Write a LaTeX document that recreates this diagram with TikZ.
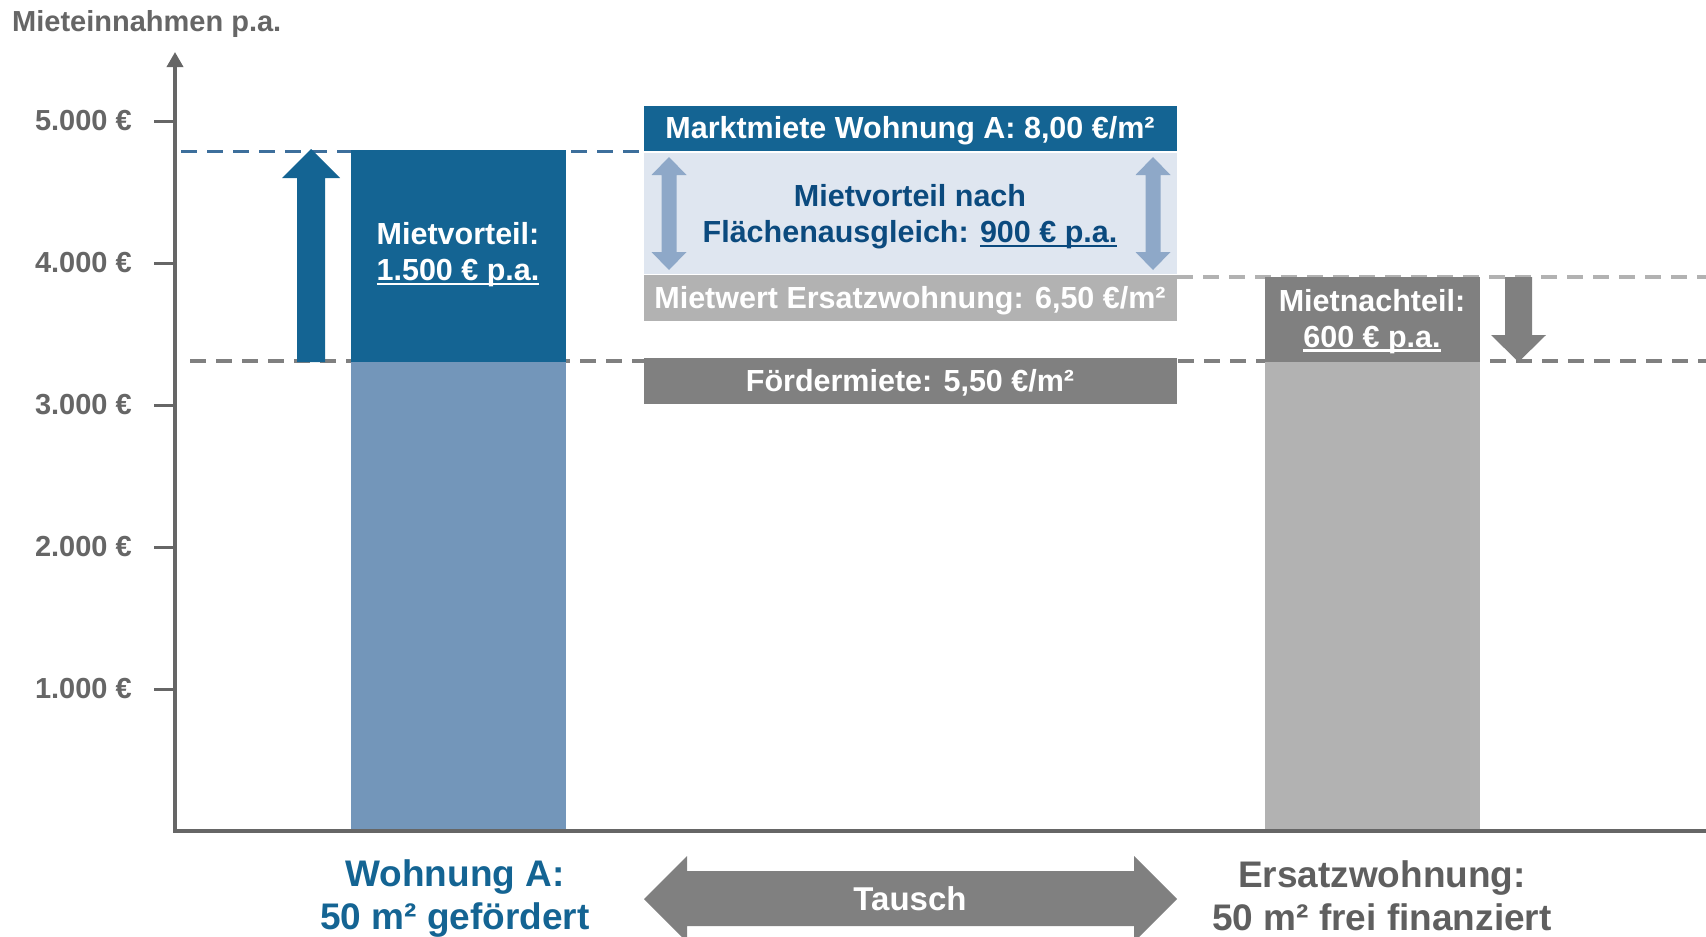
\documentclass[tikz,border=0pt]{standalone}
\usepackage{fontspec}
\setmainfont{Liberation Sans}
\usetikzlibrary{arrows.meta}
\definecolor{achsgrau}{HTML}{666666}
\definecolor{ersatzgrau}{HTML}{5F5F5F}
\definecolor{dunkelblau}{HTML}{146493}
\definecolor{hellblau}{HTML}{7396BA}
\definecolor{kastenblau}{HTML}{DFE6F0}
\definecolor{pfeilblau}{HTML}{8EA8C8}
\definecolor{textblau}{HTML}{0B4A7E}
\definecolor{strichblau}{HTML}{3D6F9C}
\definecolor{dunkelgrau}{HTML}{808080}
\definecolor{hellgrau}{HTML}{B2B2B2}
\newcommand\unterstr[1]{\setbox0\hbox{#1}\rlap{\rule[-4.5pt]{\wd0}{2.5pt}}\box0}
\tikzset{
	achse/.style={color=achsgrau,line width=3.5pt},
	linie/.style={line width=3.5pt,dash pattern=on 16pt off 10pt},
	wert/.style={anchor=east,inner sep=0pt,text=achsgrau,font=\bfseries\fontsize{29}{34}\selectfont},
	kasten/.style={text=white,align=center,font=\bfseries\fontsize{30.5}{36}\selectfont},
	unten/.style={align=center,font=\bfseries\fontsize{37}{43}\selectfont},
}
\begin{document}
\begin{tikzpicture}[x=1pt,y=-1pt]
	\useasboundingbox (0,0) rectangle (1706,937);
	\draw[linie,color=strichblau] (181,151.5) -- (644,151.5);
	\draw[linie,color=dunkelgrau] (190,361) -- (1706,361);
	\draw[linie,color=hellgrau] (1177,277) -- (1706,277);
	\fill[color=hellblau] (351,362) rectangle (566,831);
	\fill[color=dunkelblau] (351,150) rectangle (566,362);
	\fill[color=hellgrau] (1265,362) rectangle (1480,831);
	\fill[color=dunkelgrau] (1265,277) rectangle (1480,362);
	\fill[color=dunkelblau] (644,106) rectangle (1177,151);
	\fill[color=kastenblau] (644,152.5) rectangle (1177,273.5);
	\fill[color=hellgrau] (644,275) rectangle (1177,321);
	\fill[color=dunkelgrau] (644,358) rectangle (1177,404);
	\fill[color=dunkelblau] (297,362) -- (297,178) -- (282,178) -- (311,149) -- (340,178) -- (325,178) -- (325,362) -- cycle;
	\fill[color=dunkelgrau] (1505,277) -- (1505,335) -- (1491,335) -- (1518.5,362) -- (1546,335) -- (1532,335) -- (1532,277) -- cycle;
	\foreach \px in {669,1153}
		\fill[color=pfeilblau] (\px-7.5,175) -- (\px-17.5,175) -- (\px,157) -- (\px+17.5,175) -- (\px+7.5,175) -- (\px+7.5,252) -- (\px+17.5,252) -- (\px,270) -- (\px-17.5,252) -- (\px-7.5,252) -- cycle;
	\fill[color=dunkelgrau] (644,899) -- (687,856) -- (687,871) -- (1134,871) -- (1134,856) -- (1177,899) -- (1134,942) -- (1134,926) -- (687,926) -- (687,942) -- cycle;
	\draw[achse,{Triangle[length=15pt,width=16pt]}-] (175,52) -- (175,831) -- (1706,831);
	\foreach \w/\y in {1/689,2/547,3/405,4/263,5/121}{
		\draw[achse,line width=3pt] (154,\y) -- (174,\y);
		\node[wert] (w\w) at (132,\y) {\w.000 €};
	}
	\node[anchor=base west,inner sep=0pt,text=achsgrau,font=\bfseries\fontsize{29}{34}\selectfont] (titel) at (12,31.5) {Mieteinnahmen p.a.};
	\node[kasten] (markt) at (910,131) {Marktmiete Wohnung A: 8,00 €/m²};
	\node[kasten,text=textblau] (vorteil) at (910,217) {Mietvorteil nach\\Flächenausgleich: \unterstr{900 € p.a.}};
	\node[kasten] (ersatzwert) at (910,301) {Mietwert Ersatzwohnung: 6,50 €/m²};
	\node[kasten] (foerder) at (910,382.5) {Fördermiete: 5,50 €/m²};
	\node[kasten] (mietvorteil) at (458,255) {Mietvorteil:\\\unterstr{1.500 € p.a.}};
	\node[kasten] (nachteil) at (1372,321.5) {Mietnachteil:\\\unterstr{600 € p.a.}};
	\node[unten,text=dunkelblau] (wohnunga) at (455,899) {Wohnung A:\\50 m² gefördert};
	\node[unten,text=ersatzgrau] (ersatz) at (1382,895.5) {Ersatzwohnung:\\50 m² frei finanziert};
	\node[text=white,font=\bfseries\fontsize{33}{40}\selectfont] (tausch) at (910,899) {Tausch};
\end{tikzpicture}
\end{document}
